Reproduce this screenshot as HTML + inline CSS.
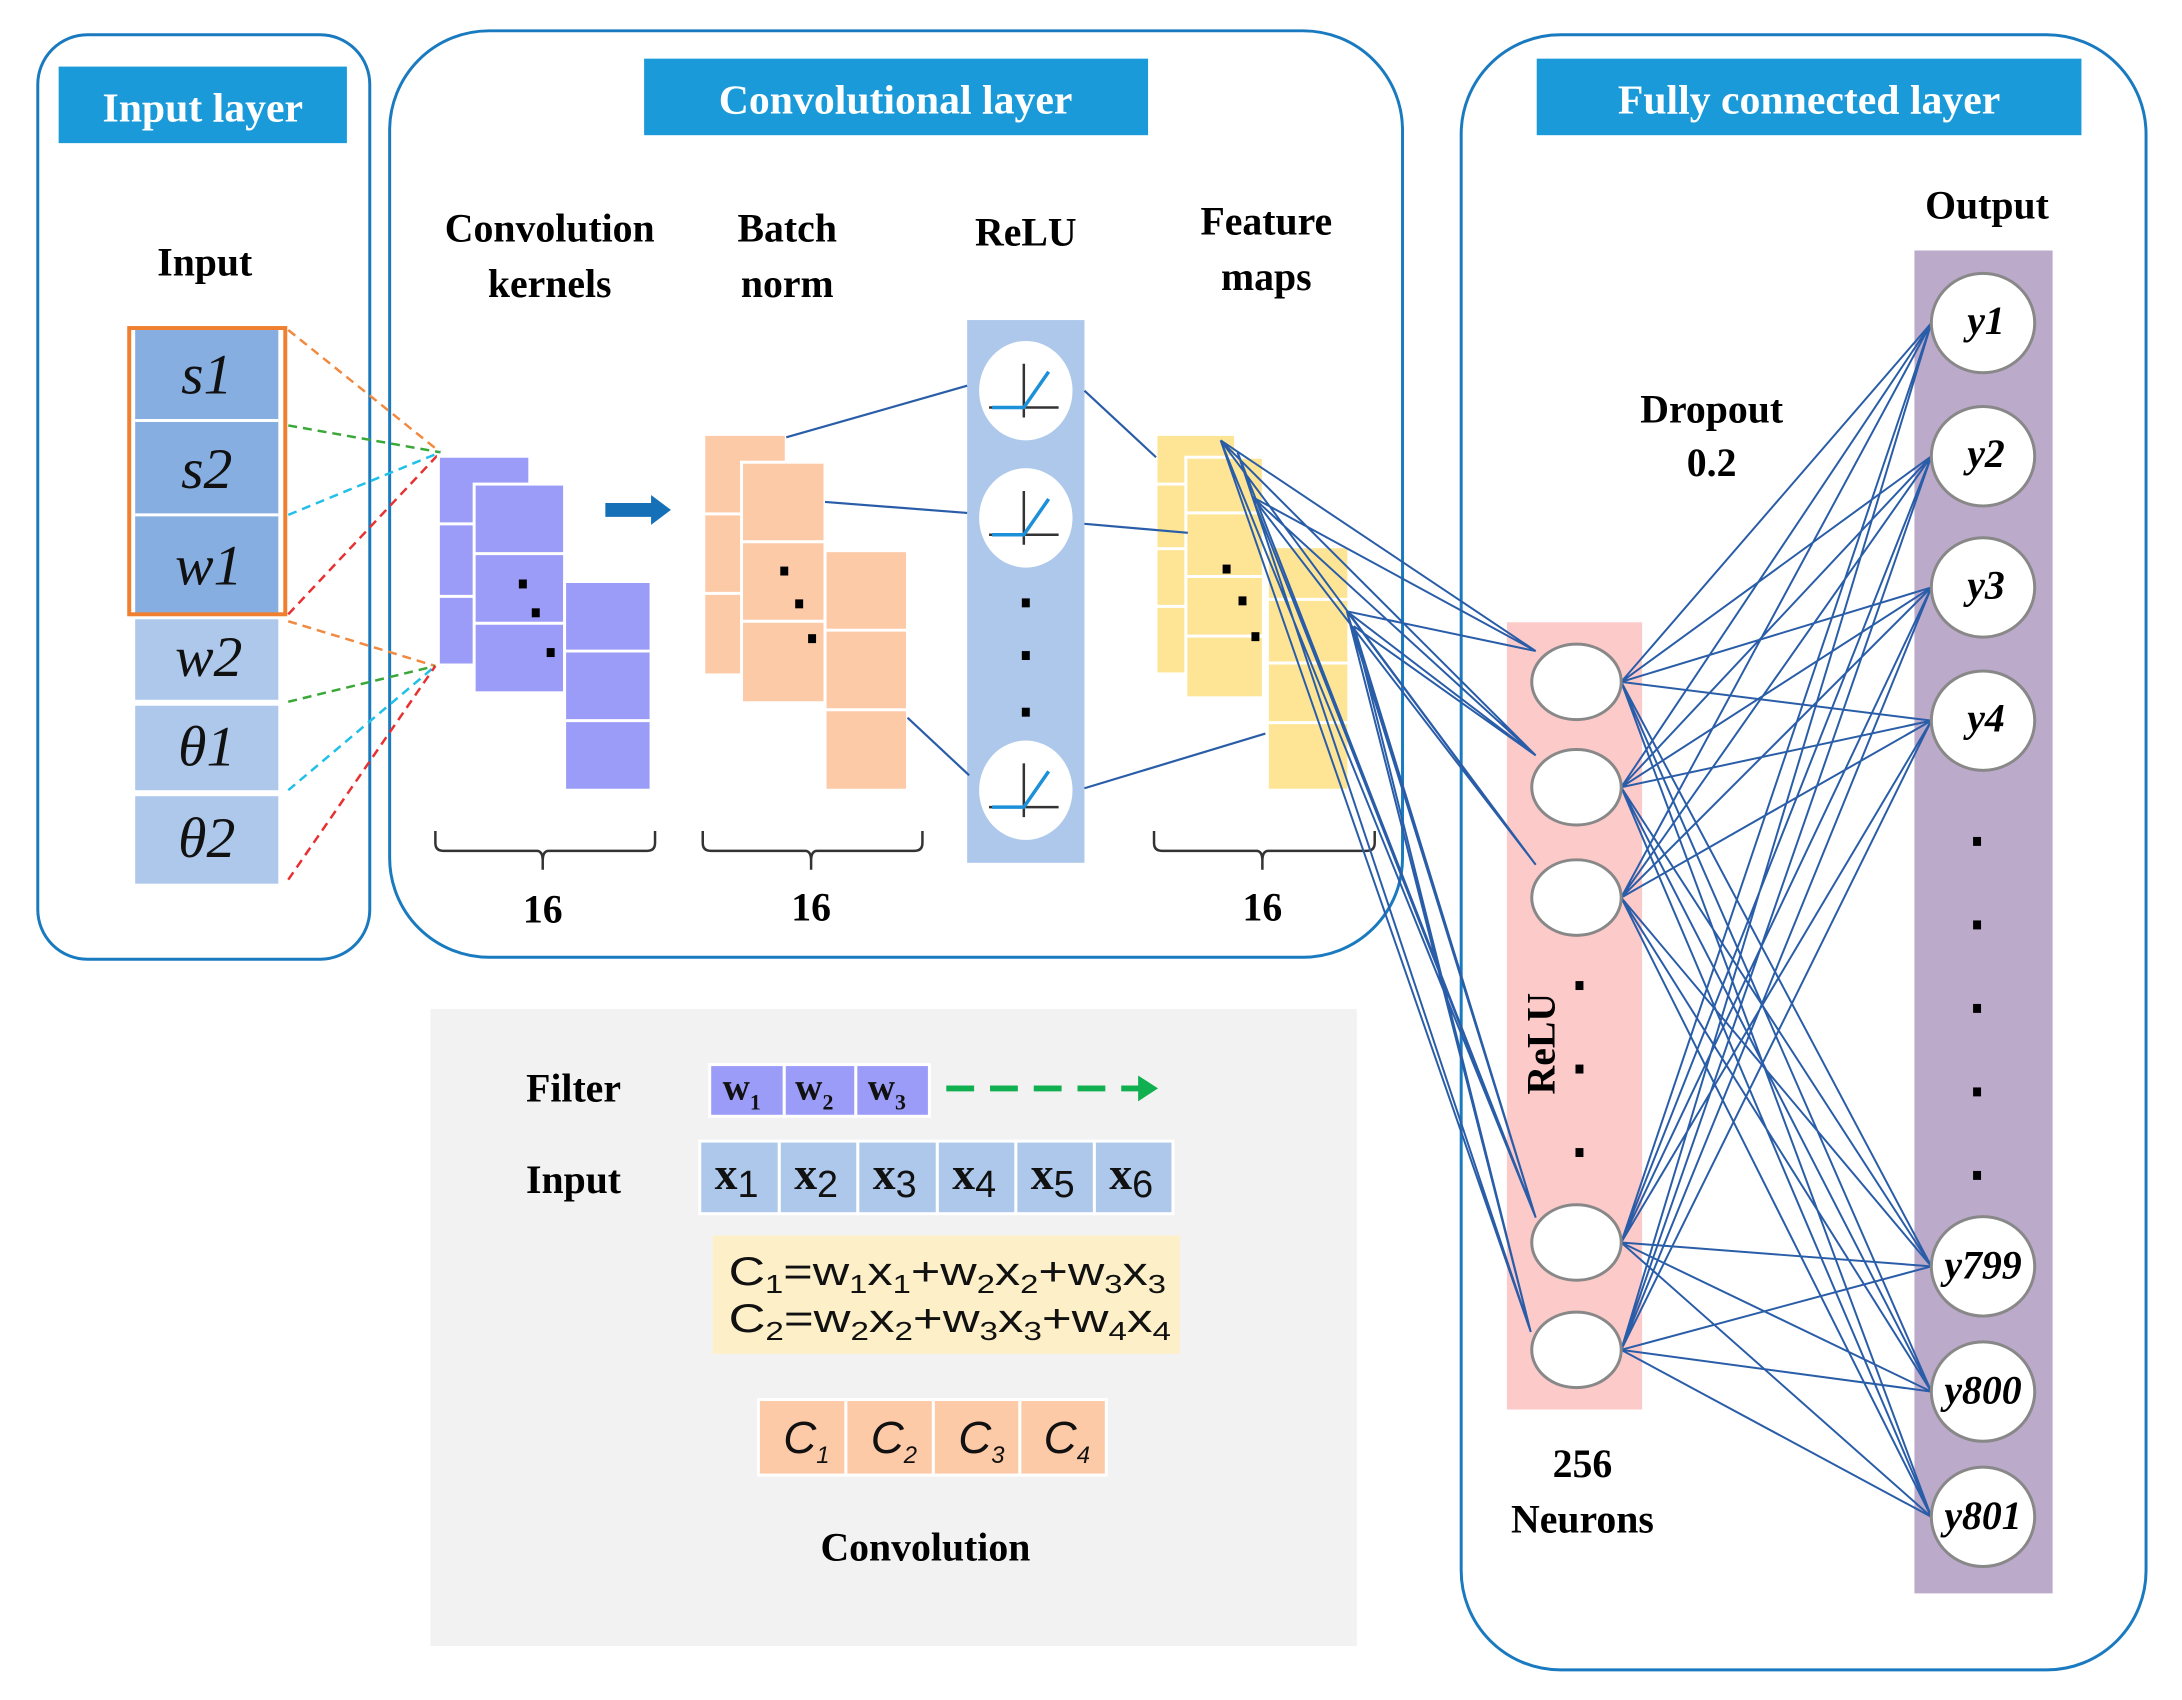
<!DOCTYPE html>
<html><head><meta charset="utf-8"><style>
html,body{margin:0;padding:0;background:#fff;}
svg{display:block;}
.b{font-family:"Liberation Serif",serif;font-weight:bold;font-size:40px;fill:#000;}
.h{font-family:"Liberation Serif",serif;font-weight:bold;font-size:42px;fill:#fff;}
.m{font-family:"Liberation Serif",serif;font-style:italic;font-size:58px;fill:#111;}
.ser{font-family:"Liberation Serif",serif;}
.sans{font-family:"Liberation Sans",sans-serif;}
</style></head><body>
<svg width="2182" height="1700" viewBox="0 0 2182 1700" xmlns="http://www.w3.org/2000/svg">
<g transform="scale(0.994)">
<!-- Boxes -->
<rect x="38" y="35" width="334" height="930" rx="50" fill="none" stroke="#1a7ac0" stroke-width="3"/>
<rect x="392" y="31" width="1019" height="932" rx="100" fill="none" stroke="#1a7ac0" stroke-width="3"/>
<rect x="1470" y="35" width="689" height="1645" rx="100" fill="none" stroke="#1a7ac0" stroke-width="3"/>
<rect x="59" y="67" width="290" height="77" fill="#1a9ad8"/>
<text x="204" y="122" text-anchor="middle" class="h">Input layer</text>
<rect x="648" y="59" width="507" height="77" fill="#1a9ad8"/>
<text x="901" y="114" text-anchor="middle" class="h">Convolutional  layer</text>
<rect x="1546" y="59" width="548" height="77" fill="#1a9ad8"/>
<text x="1820" y="114" text-anchor="middle" class="h">Fully connected layer</text>

<!-- Input column -->
<text x="206" y="277" text-anchor="middle" class="b">Input</text>
<rect x="136" y="332" width="144" height="286" fill="#86aee0"/>
<line x1="136" y1="423" x2="280" y2="423" stroke="#fff" stroke-width="3"/>
<line x1="136" y1="518" x2="280" y2="518" stroke="#fff" stroke-width="3"/>
<rect x="130" y="330" width="157" height="288" fill="none" stroke="#f08030" stroke-width="4"/>
<rect x="136" y="623" width="144" height="81" fill="#adc8ea"/>
<rect x="136" y="710" width="144" height="85" fill="#adc8ea"/>
<rect x="136" y="801" width="144" height="88" fill="#adc8ea"/>
<text x="208" y="396" text-anchor="middle" class="m">s1</text>
<text x="208" y="491" text-anchor="middle" class="m">s2</text>
<text x="210" y="588" text-anchor="middle" class="m">w1</text>
<text x="210" y="680" text-anchor="middle" class="m">w2</text>
<text x="208" y="770" text-anchor="middle" class="m">θ1</text>
<text x="208" y="862" text-anchor="middle" class="m">θ2</text>
<g stroke-width="2.5" stroke-dasharray="9,6" fill="none">
<line x1="290" y1="332" x2="443" y2="455" stroke="#f08a40"/>
<line x1="290" y1="428" x2="443" y2="455" stroke="#3aa838"/>
<line x1="290" y1="518" x2="443" y2="455" stroke="#20c0e8"/>
<line x1="290" y1="618" x2="443" y2="455" stroke="#e83030"/>
<line x1="290" y1="625" x2="438" y2="670" stroke="#f08a40"/>
<line x1="290" y1="706" x2="438" y2="670" stroke="#3aa838"/>
<line x1="290" y1="795" x2="438" y2="670" stroke="#20c0e8"/>
<line x1="290" y1="885" x2="438" y2="670" stroke="#e83030"/>
</g>

<!-- Conv labels -->
<text x="553" y="243" text-anchor="middle" class="b">Convolution</text>
<text x="553" y="299" text-anchor="middle" class="b">kernels</text>
<text x="792" y="243" text-anchor="middle" class="b">Batch</text>
<text x="792" y="299" text-anchor="middle" class="b">norm</text>
<text x="1032" y="247" text-anchor="middle" class="b">ReLU</text>
<text x="1274" y="236" text-anchor="middle" class="b">Feature</text>
<text x="1274" y="292" text-anchor="middle" class="b">maps</text>

<!-- kernels -->
<g fill="#9b9bf8" stroke="#fff" stroke-width="3">
<rect x="441" y="459" width="92" height="210"/>
<line x1="441" y1="527" x2="533" y2="527"/><line x1="441" y1="600" x2="533" y2="600"/>
<rect x="477" y="487" width="91" height="210"/>
<line x1="477" y1="557" x2="568" y2="557"/><line x1="477" y1="627" x2="568" y2="627"/>
<rect x="568" y="585" width="87" height="210"/>
<line x1="568" y1="655" x2="655" y2="655"/><line x1="568" y1="725" x2="655" y2="725"/>
</g>
<rect x="522" y="583" width="8" height="9"/><rect x="535" y="612" width="8" height="9"/><rect x="550" y="652" width="8" height="9"/>
<polygon points="609,506 655,506 655,498 675,513 655,528 655,520 609,520" fill="#1670b8"/>

<!-- batch norm -->
<g fill="#fdcaa8" stroke="#fff" stroke-width="3">
<rect x="708" y="437" width="83" height="242"/>
<line x1="708" y1="517" x2="791" y2="517"/><line x1="708" y1="597" x2="791" y2="597"/>
<rect x="746" y="465" width="84" height="242"/>
<line x1="746" y1="545" x2="830" y2="545"/><line x1="746" y1="625" x2="830" y2="625"/>
<rect x="830" y="554" width="83" height="241"/>
<line x1="830" y1="634" x2="913" y2="634"/><line x1="830" y1="714" x2="913" y2="714"/>
</g>
<rect x="785" y="570" width="8" height="9"/><rect x="800" y="603" width="8" height="9"/><rect x="813" y="638" width="8" height="9"/>

<!-- relu col -->
<rect x="973" y="322" width="118" height="546" fill="#adc8ea"/>
<g>
<ellipse cx="1032" cy="393" rx="47" ry="50" fill="#fff"/>
<ellipse cx="1032" cy="521" rx="47" ry="50" fill="#fff"/>
<ellipse cx="1032" cy="795" rx="47" ry="50" fill="#fff"/>
</g>
<g stroke="#333" stroke-width="2.5" fill="none">
<path d="M995 410 H1065 M1030 366 V420"/><path d="M995 538 H1065 M1030 494 V548"/><path d="M995 812 H1065 M1030 768 V822"/>
</g>
<g stroke="#1c90d8" stroke-width="3.5" fill="none">
<path d="M998 410 H1030 L1055 374"/><path d="M998 538 H1030 L1055 502"/><path d="M998 812 H1030 L1055 776"/>
</g>
<rect x="1028" y="602" width="8" height="9"/><rect x="1028" y="655" width="8" height="9"/><rect x="1028" y="712" width="8" height="9"/>

<!-- feature maps -->
<g fill="#fee595" stroke="#fff" stroke-width="3">
<rect x="1163" y="437" width="80" height="241"/>
<line x1="1163" y1="487" x2="1243" y2="487"/><line x1="1163" y1="552" x2="1243" y2="552"/><line x1="1163" y1="610" x2="1243" y2="610"/>
<rect x="1193" y="460" width="78" height="242"/>
<line x1="1193" y1="516" x2="1271" y2="516"/><line x1="1193" y1="580" x2="1271" y2="580"/><line x1="1193" y1="640" x2="1271" y2="640"/>
<rect x="1275" y="550" width="82" height="245"/>
<line x1="1275" y1="603" x2="1357" y2="603"/><line x1="1275" y1="667" x2="1357" y2="667"/><line x1="1275" y1="727" x2="1357" y2="727"/>
</g>
<rect x="1230" y="568" width="8" height="9"/><rect x="1246" y="600" width="8" height="9"/><rect x="1259" y="636" width="8" height="9"/>

<g stroke="#2a5da8" stroke-width="2.2" fill="none">
<path d="M791 440 L973 388 M830 505 L973 516 M913 722 L975 780 M1091 393 L1163 460 M1091 527 L1195 536 M1091 793 L1273 738"/>
</g>

<!-- braces -->
<g stroke="#333" stroke-width="2.5" fill="none">
<path d="M438 836 V848 Q438 856 446 856 H540 Q546 856 546 866 V875 M546 866 Q546 856 552 856 H651 Q659 856 659 848 V836"/>
<path d="M707 836 V848 Q707 856 715 856 H810 Q816 856 816 866 V875 M816 866 Q816 856 822 856 H920 Q928 856 928 848 V836"/>
<path d="M1161 836 V848 Q1161 856 1169 856 H1264 Q1270 856 1270 866 V875 M1270 866 Q1270 856 1276 856 H1375 Q1383 856 1383 848 V836"/>
</g>
<text x="546" y="928" text-anchor="middle" class="b">16</text>
<text x="816" y="926" text-anchor="middle" class="b">16</text>
<text x="1270" y="926" text-anchor="middle" class="b">16</text>

<!-- FC -->
<text x="1999" y="220" text-anchor="middle" class="b">Output</text>
<rect x="1926" y="252" width="139" height="1351" fill="#bcaacb"/>
<rect x="1516" y="626" width="136" height="792" fill="#fdcaca"/>
<text x="1722" y="425" text-anchor="middle" class="b">Dropout</text>
<text x="1722" y="479" text-anchor="middle" class="b">0.2</text>
<text x="1592" y="1486" text-anchor="middle" class="b">256</text>
<text x="1592" y="1542" text-anchor="middle" class="b">Neurons</text>
<text transform="translate(1564,1050) rotate(-90)" text-anchor="middle" class="b">ReLU</text>
<rect x="1585" y="987" width="8" height="9"/><rect x="1585" y="1071" width="8" height="9"/><rect x="1585" y="1155" width="8" height="9"/>
<g fill="#000"><rect x="1985" y="842" width="8" height="9"/><rect x="1985" y="926" width="8" height="9"/><rect x="1985" y="1010" width="8" height="9"/><rect x="1985" y="1094" width="8" height="9"/><rect x="1985" y="1178" width="8" height="9"/></g>

<g stroke="#2a5da8" stroke-width="2" fill="none">
<path d="M1228 443 L1545 655 M1228 443 L1545 760 M1228 443 L1545 870 M1228 443 L1545 1225 M1228 443 L1540 1340
M1260 500 L1545 655 M1260 500 L1545 760 M1260 500 L1545 870 M1260 500 L1545 1225 M1260 500 L1540 1340
M1355 615 L1545 655 M1355 615 L1545 760 M1355 615 L1545 870 M1355 615 L1545 1225 M1355 615 L1540 1340
M1362 630 L1545 760 M1362 630 L1545 1225 M1362 630 L1540 1340 M1245 455 L1545 1225 M1245 455 L1540 1340"/>
<path d="M1631 686 L1943 325 M1631 686 L1943 459 M1631 686 L1943 591 M1631 686 L1943 725 M1631 686 L1943 1274 M1631 686 L1943 1400 M1631 686 L1943 1526
M1631 792 L1943 325 M1631 792 L1943 459 M1631 792 L1943 591 M1631 792 L1943 725 M1631 792 L1943 1274 M1631 792 L1943 1400 M1631 792 L1943 1526
M1631 903 L1943 325 M1631 903 L1943 459 M1631 903 L1943 591 M1631 903 L1943 725 M1631 903 L1943 1274 M1631 903 L1943 1400 M1631 903 L1943 1526
M1631 1250 L1943 325 M1631 1250 L1943 459 M1631 1250 L1943 591 M1631 1250 L1943 725 M1631 1250 L1943 1274 M1631 1250 L1943 1400 M1631 1250 L1943 1526
M1631 1358 L1943 325 M1631 1358 L1943 459 M1631 1358 L1943 591 M1631 1358 L1943 725 M1631 1358 L1943 1274 M1631 1358 L1943 1400 M1631 1358 L1943 1526"/>
</g>
<g fill="#fff" stroke="#888" stroke-width="3">
<ellipse cx="1586" cy="686" rx="45" ry="38"/><ellipse cx="1586" cy="792" rx="45" ry="38"/><ellipse cx="1586" cy="903" rx="45" ry="38"/><ellipse cx="1586" cy="1250" rx="45" ry="38"/><ellipse cx="1586" cy="1358" rx="45" ry="38"/>
<ellipse cx="1995" cy="325" rx="52" ry="50"/><ellipse cx="1995" cy="459" rx="52" ry="50"/><ellipse cx="1995" cy="591" rx="52" ry="50"/><ellipse cx="1995" cy="725" rx="52" ry="50"/><ellipse cx="1995" cy="1274" rx="52" ry="50"/><ellipse cx="1995" cy="1400" rx="52" ry="50"/><ellipse cx="1995" cy="1526" rx="52" ry="50"/>
</g>
<g class="ser" font-style="italic" font-weight="bold" font-size="40" text-anchor="middle">
<text x="1998" y="336">y1</text><text x="1998" y="470">y2</text><text x="1998" y="602">y3</text><text x="1998" y="736">y4</text>
<text x="1995" y="1286">y799</text><text x="1995" y="1412">y800</text><text x="1995" y="1538">y801</text>
</g>

<!-- Convolution panel -->
<rect x="433" y="1015" width="932" height="641" fill="#f2f2f2"/>
<text x="577" y="1108" text-anchor="middle" class="b">Filter</text>
<text x="577" y="1200" text-anchor="middle" class="b">Input</text>
<g fill="#9b9bf8" stroke="#fff" stroke-width="3">
<rect x="714" y="1071" width="75" height="52"/><rect x="789" y="1071" width="72" height="52"/><rect x="861" y="1071" width="74" height="52"/>
</g>
<g class="ser" font-weight="bold" font-size="38" fill="#111">
<text x="727" y="1106">w<tspan font-size="22" dy="10">1</tspan></text>
<text x="800" y="1106">w<tspan font-size="22" dy="10">2</tspan></text>
<text x="873" y="1106">w<tspan font-size="22" dy="10">3</tspan></text>
</g>
<line x1="952" y1="1095" x2="1148" y2="1095" stroke="#10b050" stroke-width="6" stroke-dasharray="28,16"/>
<polygon points="1145,1082 1165,1095 1145,1108" fill="#10b050"/>
<g fill="#adc8ea" stroke="#fff" stroke-width="3">
<rect x="704" y="1148" width="80" height="73"/><rect x="784" y="1148" width="79" height="73"/><rect x="863" y="1148" width="80" height="73"/><rect x="943" y="1148" width="79" height="73"/><rect x="1022" y="1148" width="79" height="73"/><rect x="1101" y="1148" width="79" height="73"/>
</g>
<g class="ser" font-weight="bold" font-size="46" fill="#111">
<text x="719" y="1196">x<tspan class="sans" font-weight="normal" font-size="38" dy="8">1</tspan></text>
<text x="799" y="1196">x<tspan class="sans" font-weight="normal" font-size="38" dy="8">2</tspan></text>
<text x="878" y="1196">x<tspan class="sans" font-weight="normal" font-size="38" dy="8">3</tspan></text>
<text x="958" y="1196">x<tspan class="sans" font-weight="normal" font-size="38" dy="8">4</tspan></text>
<text x="1037" y="1196">x<tspan class="sans" font-weight="normal" font-size="38" dy="8">5</tspan></text>
<text x="1116" y="1196">x<tspan class="sans" font-weight="normal" font-size="38" dy="8">6</tspan></text>
</g>
<rect x="717" y="1243" width="470" height="119" fill="#fdf0c8"/>
<g class="sans" font-size="40" fill="#111">
<text x="733" y="1293" textLength="440" lengthAdjust="spacingAndGlyphs">C<tspan font-size="26" dy="8">1</tspan><tspan dy="-8">=w</tspan><tspan font-size="26" dy="8">1</tspan><tspan dy="-8">x</tspan><tspan font-size="26" dy="8">1</tspan><tspan dy="-8">+w</tspan><tspan font-size="26" dy="8">2</tspan><tspan dy="-8">x</tspan><tspan font-size="26" dy="8">2</tspan><tspan dy="-8">+w</tspan><tspan font-size="26" dy="8">3</tspan><tspan dy="-8">x</tspan><tspan font-size="26" dy="8">3</tspan></text>
<text x="733" y="1340" textLength="445" lengthAdjust="spacingAndGlyphs">C<tspan font-size="26" dy="8">2</tspan><tspan dy="-8">=w</tspan><tspan font-size="26" dy="8">2</tspan><tspan dy="-8">x</tspan><tspan font-size="26" dy="8">2</tspan><tspan dy="-8">+w</tspan><tspan font-size="26" dy="8">3</tspan><tspan dy="-8">x</tspan><tspan font-size="26" dy="8">3</tspan><tspan dy="-8">+w</tspan><tspan font-size="26" dy="8">4</tspan><tspan dy="-8">x</tspan><tspan font-size="26" dy="8">4</tspan></text>
</g>
<g fill="#fdcaa8" stroke="#fff" stroke-width="3">
<rect x="763" y="1408" width="88" height="76"/><rect x="851" y="1408" width="88" height="76"/><rect x="939" y="1408" width="87" height="76"/><rect x="1026" y="1408" width="87" height="76"/>
</g>
<g class="sans" font-style="italic" font-size="46" fill="#111">
<text x="788" y="1462">C<tspan font-size="24" dy="10">1</tspan></text>
<text x="876" y="1462">C<tspan font-size="24" dy="10">2</tspan></text>
<text x="964" y="1462">C<tspan font-size="24" dy="10">3</tspan></text>
<text x="1050" y="1462">C<tspan font-size="24" dy="10">4</tspan></text>
</g>
<text x="931" y="1570" text-anchor="middle" class="b">Convolution</text>
</g>
</svg>
</body></html>
